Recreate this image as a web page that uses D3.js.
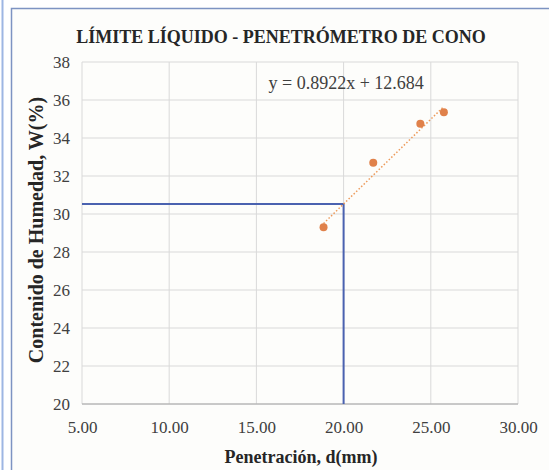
<!DOCTYPE html>
<html><head><meta charset="utf-8">
<script src="https://cdn.jsdelivr.net/npm/d3@7"></script>
<style>body{margin:0;background:#fff}svg{display:block}</style>
</head><body>
<svg id="c" width="549" height="470"></svg>
<script>
const title = "LÍMITE LÍQUIDO - PENETRÓMETRO DE CONO";
const xTitle = "Penetración, d(mm)";
const yTitle = "Contenido de Humedad, W(%)";
const xTicks = [5, 10, 15, 20, 25, 30];
const yTicks = [20, 22, 24, 26, 28, 30, 32, 34, 36, 38];
const penetration = [18.85, 21.7, 24.4, 25.75];
const moisture = [29.3, 32.7, 34.75, 35.35];
const slope = 0.8922, intercept = 12.684;
const equation = "y = 0.8922x + 12.684";
const liquidLimitD = 20;

const svg = d3.select("#c");
const FONT = "Liberation Serif";
// frame
svg.append("rect").attr("x",0).attr("y",0).attr("width",549).attr("height",470).attr("fill","#fff");
svg.append("line").attr("x1",2.5).attr("x2",2.5).attr("y1",0).attr("y2",470).attr("stroke","#9db6e3").attr("stroke-width",2);
svg.append("rect").attr("x",11.5).attr("y",8.5).attr("width",545).attr("height",470).attr("fill","#fdfdfb").attr("stroke","#7d93c2").attr("stroke-width",1.5);

const m = {l:82, r:518, t:62, b:404};
const x = d3.scaleLinear().domain([5,30]).range([m.l, m.r]);
const y = d3.scaleLinear().domain([20,38]).range([m.b, m.t]);

const g = svg.append("g");
g.selectAll(".gx").data(xTicks).join("line").attr("x1",d=>x(d)).attr("x2",d=>x(d)).attr("y1",m.t).attr("y2",m.b).attr("stroke","#d9d9d9");
g.selectAll(".gy").data(yTicks).join("line").attr("x1",m.l).attr("x2",m.r).attr("y1",d=>y(d)).attr("y2",d=>y(d)).attr("stroke","#d9d9d9");
g.append("line").attr("x1",m.l).attr("x2",m.r).attr("y1",m.b).attr("y2",m.b).attr("stroke","#a6a6a6");

const xAxis = d3.axisBottom(x).tickValues(xTicks).tickFormat(d3.format(".2f")).tickSize(0).tickPadding(17);
const xa = svg.append("g").attr("transform",`translate(0,${m.b})`).call(xAxis).attr("font-family",FONT).attr("font-size",17);
xa.select(".domain").remove();
xa.selectAll("text").attr("fill","#404040");
const yAxis = d3.axisLeft(y).tickValues(yTicks).tickSize(0).tickPadding(12);
const ya = svg.append("g").attr("transform",`translate(${m.l},0)`).call(yAxis).attr("font-family",FONT).attr("font-size",17);
ya.select(".domain").remove();
ya.selectAll("text").attr("fill","#404040");

const ll = slope*liquidLimitD + intercept;
svg.append("path").attr("d",`M${x(5)},${y(ll)}H${x(liquidLimitD)}V${y(20)}`).attr("fill","none").attr("stroke","#4a62b0").attr("stroke-width",2);

const x0 = d3.min(penetration), x1 = d3.max(penetration);
svg.append("line").attr("x1",x(x0)).attr("y1",y(slope*x0+intercept)).attr("x2",x(x1)).attr("y2",y(slope*x1+intercept))
  .attr("stroke","#ed9a5a").attr("stroke-width",1.5).attr("stroke-dasharray","1.5,2");

svg.selectAll(".pt").data(penetration.map((d,i)=>[d,moisture[i]])).join("circle")
  .attr("cx",d=>x(d[0])).attr("cy",d=>y(d[1])).attr("r",4).attr("fill","#e0814a");

svg.append("text").attr("x",x(20.15)).attr("y",y(36.6)).attr("text-anchor","middle").attr("font-family",FONT).attr("font-size",18).attr("fill","#404040").text(equation);

svg.append("text").attr("x",281).attr("y",43).attr("text-anchor","middle").attr("font-family",FONT).attr("font-weight","bold").attr("font-size",18).attr("fill","#262626").text(title);
svg.append("text").attr("x",301).attr("y",463).attr("text-anchor","middle").attr("font-family",FONT).attr("font-weight","bold").attr("font-size",18).attr("fill","#262626").text(xTitle);
svg.append("text").attr("transform",`translate(43,230) rotate(-90)`).attr("text-anchor","middle").attr("font-family",FONT).attr("font-weight","bold").attr("font-size",20).attr("fill","#262626").text(yTitle);
</script>
</body></html>
